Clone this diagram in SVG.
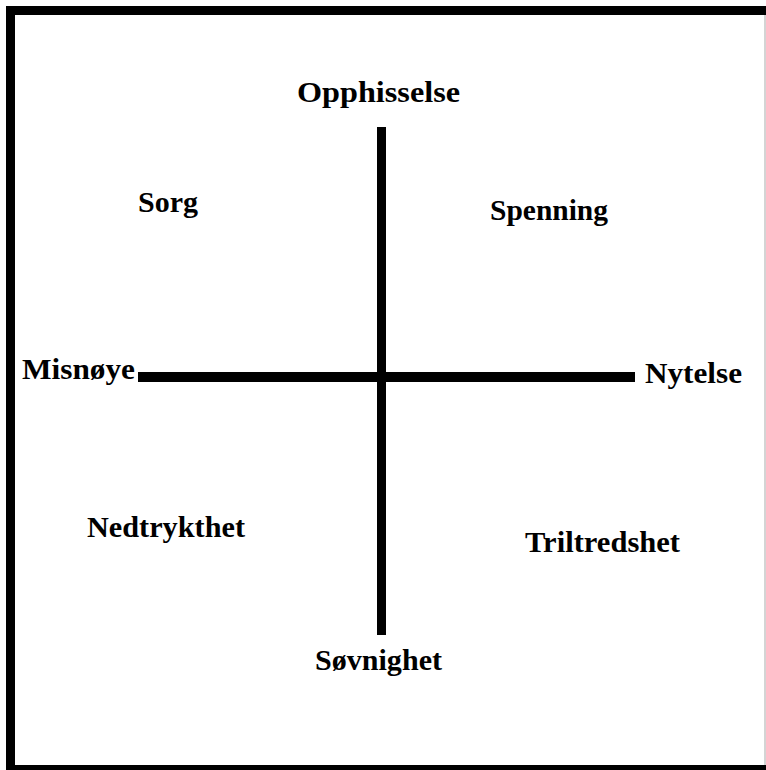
<svg xmlns="http://www.w3.org/2000/svg" width="766" height="770" viewBox="0 0 766 770">
<style>
.lbl{font-family:"Liberation Serif","Times New Roman",serif;font-weight:bold;font-size:29px;fill:#000}
.axis{fill:#000}
</style>
<rect x="0" y="0" width="766" height="770" fill="#fff"/>
<g id="frame">
<rect x="6" y="6" width="760" height="9" fill="#000"/>
<rect x="6" y="6" width="9" height="764" fill="#000"/>
<rect x="6" y="765" width="760" height="5" fill="#000"/>
<rect x="764.5" y="15" width="1" height="750" fill="#aaa"/>
</g>
<g id="connectors">
<rect class="axis" x="377" y="127" width="9" height="508"/>
<rect class="axis" x="138" y="372" width="497" height="10"/>
</g>
<g id="node-opphisselse"><text class="lbl" x="297" y="102" textLength="163" lengthAdjust="spacingAndGlyphs">Opphisselse</text></g>
<g id="node-sorg"><text class="lbl" x="138" y="212" textLength="60" lengthAdjust="spacingAndGlyphs">Sorg</text></g>
<g id="node-spenning"><text class="lbl" x="490" y="220" textLength="118" lengthAdjust="spacingAndGlyphs">Spenning</text></g>
<g id="node-misnoye"><text class="lbl" x="22" y="379" textLength="113" lengthAdjust="spacingAndGlyphs">Misnøye</text></g>
<g id="node-nytelse"><text class="lbl" x="645" y="383" textLength="97" lengthAdjust="spacingAndGlyphs">Nytelse</text></g>
<g id="node-nedtrykthet"><text class="lbl" x="87" y="537" textLength="158" lengthAdjust="spacingAndGlyphs">Nedtrykthet</text></g>
<g id="node-triltredshet"><text class="lbl" x="525" y="552" textLength="155" lengthAdjust="spacingAndGlyphs">Triltredshet</text></g>
<g id="node-sovnighet"><text class="lbl" x="315" y="670" textLength="127" lengthAdjust="spacingAndGlyphs">Søvnighet</text></g>
</svg>
